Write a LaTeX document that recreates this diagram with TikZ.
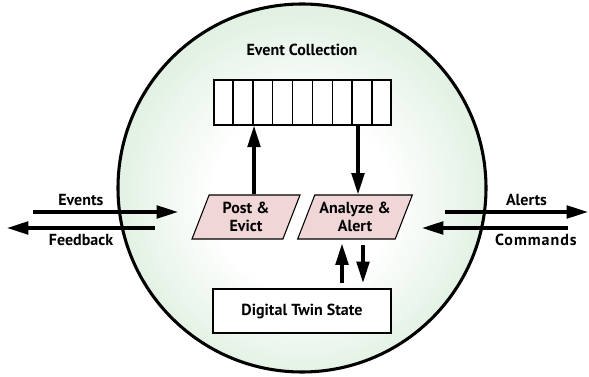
\documentclass[tikz,border=0pt]{standalone}
\usepackage{fontspec}
\setsansfont{PT Sans}
\usetikzlibrary{shapes.geometric, arrows.meta, positioning, calc}

\definecolor{bubbleEdge}{RGB}{170,215,174}
\definecolor{bubbleCore}{RGB}{255,255,255}
\definecolor{taskFill}{RGB}{240,214,214}
\pgfdeclareradialshading{bubble}{\pgfpoint{0bp}{-2bp}}{color(0bp)=(bubbleCore); color(12bp)=(bubbleCore); color(50bp)=(bubbleEdge)}

\begin{document}
\begin{tikzpicture}[
    x=0.75pt, y=-0.75pt,
    font=\sffamily\bfseries\fontsize{12}{13.5}\selectfont,
    box/.style={draw, line width=1.1pt, fill=white, inner sep=0pt},
    task/.style={draw, line width=0.8pt, fill=taskFill, trapezium, trapezium left angle=60, trapezium right angle=120, trapezium stretches body, minimum height=33pt, inner sep=0pt, align=center},
    arrow/.style={-{Triangle[length=16pt, width=9.5pt]}, line width=2.4pt},
    label_text/.style={font=\sffamily\bfseries\fontsize{12}{13.5}\selectfont}
]
    \useasboundingbox (0,0) rectangle (589,377);

    % Outer service boundary
    \node[circle, minimum size=276pt, inner sep=0pt, line width=2.3pt, draw, shading=bubble] (svc) at (302,188) {};

    % Components
    \node (title) at (302,50) {Event Collection};
    \node[box, minimum width=132.75pt, minimum height=33.75pt] (queue) at (302.5,102.5) {};
    \foreach \i in {1,...,8}
        \draw[line width=0.9pt] ($(queue.north west)!\i/9!(queue.north east)$) -- ($(queue.south west)!\i/9!(queue.south east)$);

    \node[task, minimum width=81pt] (post) at (246,217) {Post \&\\Evict};
    \node[task, minimum width=86pt] (analyze) at (355,217) {Analyze \&\\Alert};
    \node[box, minimum width=133.5pt, minimum height=33pt] (state) at (302,311) {Digital Twin State};

    % Connections
    \draw[arrow] ([xshift=6pt]post.north) -- ([xshift=6pt]post.north |- queue.south);
    \draw[arrow] ([xshift=2.25pt]analyze.north |- queue.south) -- ([xshift=2.25pt]analyze.north);
    \draw[arrow, shorten <=4pt, shorten >=3pt] ([xshift=-9.75pt]analyze.south |- state.north) -- ([xshift=-9.75pt]analyze.south);
    \draw[arrow, shorten <=4pt, shorten >=4pt] ([xshift=6pt]analyze.south) -- ([xshift=6pt]analyze.south |- state.north);

    % Outside traffic
    \coordinate (ev_in) at (33,212);
    \coordinate (ev_end) at (178,212);
    \coordinate (fb_start) at (155,228);
    \coordinate (fb_out) at (7,228);
    \coordinate (al_start) at (445,212);
    \coordinate (al_out) at (588,212);
    \coordinate (cmd_in) at (568,228);
    \coordinate (cmd_end) at (422,228);

    \draw[arrow] (ev_in) -- node[label_text, above, pos=0.33] {Events} (ev_end);
    \draw[arrow] (fb_start) -- node[label_text, below, pos=0.5] {Feedback} (fb_out);
    \draw[arrow] (al_start) -- node[label_text, above, pos=0.57] {Alerts} (al_out);
    \draw[arrow] (cmd_in) -- node[label_text, below, pos=0.22] {\addfontfeature{LetterSpace=6}Commands} (cmd_end);

\end{tikzpicture}
\end{document}
